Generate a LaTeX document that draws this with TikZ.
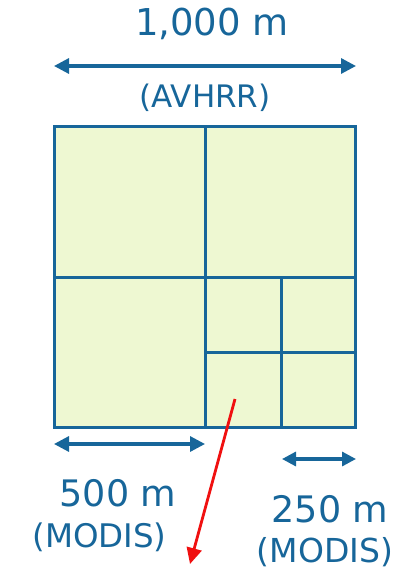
\documentclass[tikz,border=0pt]{standalone}
\usepackage{fontspec}
\setmainfont{DejaVu Sans}
\usetikzlibrary{arrows.meta}
\definecolor{dblue}{HTML}{17669A}
\definecolor{cfill}{HTML}{EEF8D2}
\definecolor{cred}{HTML}{F01010}
\begin{document}
\begin{tikzpicture}[x=1pt,y=-1pt,
  cell/.style={draw=dblue,line width=3pt,fill=cfill},
  dim/.style={draw=dblue,line width=3.2pt,{Triangle[length=15pt,width=15pt]}-{Triangle[length=15pt,width=15pt]}},
  lbl/.style={text=dblue,anchor=base,inner sep=0pt}]
\useasboundingbox (0,0) rectangle (412,569);
% grid
\fill[cfill] (54.5,126.5) rectangle (355.5,427.5);
\draw[cell] (54.5,126.5) rectangle (355.5,427.5);
\draw[cell,fill=none] (205,126.5) -- (205,427.5);
\draw[cell,fill=none] (54.5,277) -- (355.5,277);
\draw[cell,fill=none] (281,277) -- (281,427.5);
\draw[cell,fill=none] (205,352) -- (355.5,352);
% dimension arrows
\coordinate (a1) at (54,66);
\coordinate (a2) at (356,66);
\draw[dim] (a1) -- (a2);
\coordinate (b1) at (54,444);
\coordinate (b2) at (205,444);
\draw[dim] (b1) -- (b2);
\coordinate (c1) at (282,459);
\coordinate (c2) at (356,459);
\draw[dim,{Triangle[length=14pt,width=14pt]}-{Triangle[length=14pt,width=14pt]}] (c1) -- (c2);
% labels
\node[lbl,font=\fontsize{37}{40}\selectfont] (t1) at (212,36) {1,000 m};
\node[lbl,font=\fontsize{31}{34}\selectfont] (t2) at (205,108) {(AVHRR)};
\node[lbl,font=\fontsize{36.5}{40}\selectfont] (t3) at (118,506) {500 m};
\node[lbl,font=\fontsize{32.5}{36}\selectfont] (t4) at (99.5,547) {(MODIS)};
\node[lbl,font=\fontsize{36.5}{40}\selectfont] (t5) at (330,522) {250 m};
\node[lbl,font=\fontsize{33}{36}\selectfont] (t6) at (325,562) {(MODIS)};
% red arrow
\coordinate (r1) at (235,399);
\coordinate (r2) at (190,564);
\draw[cred,line width=2.8pt,-{Triangle[length=16pt,width=15pt]}] (r1) -- (r2);
\end{tikzpicture}
\end{document}
